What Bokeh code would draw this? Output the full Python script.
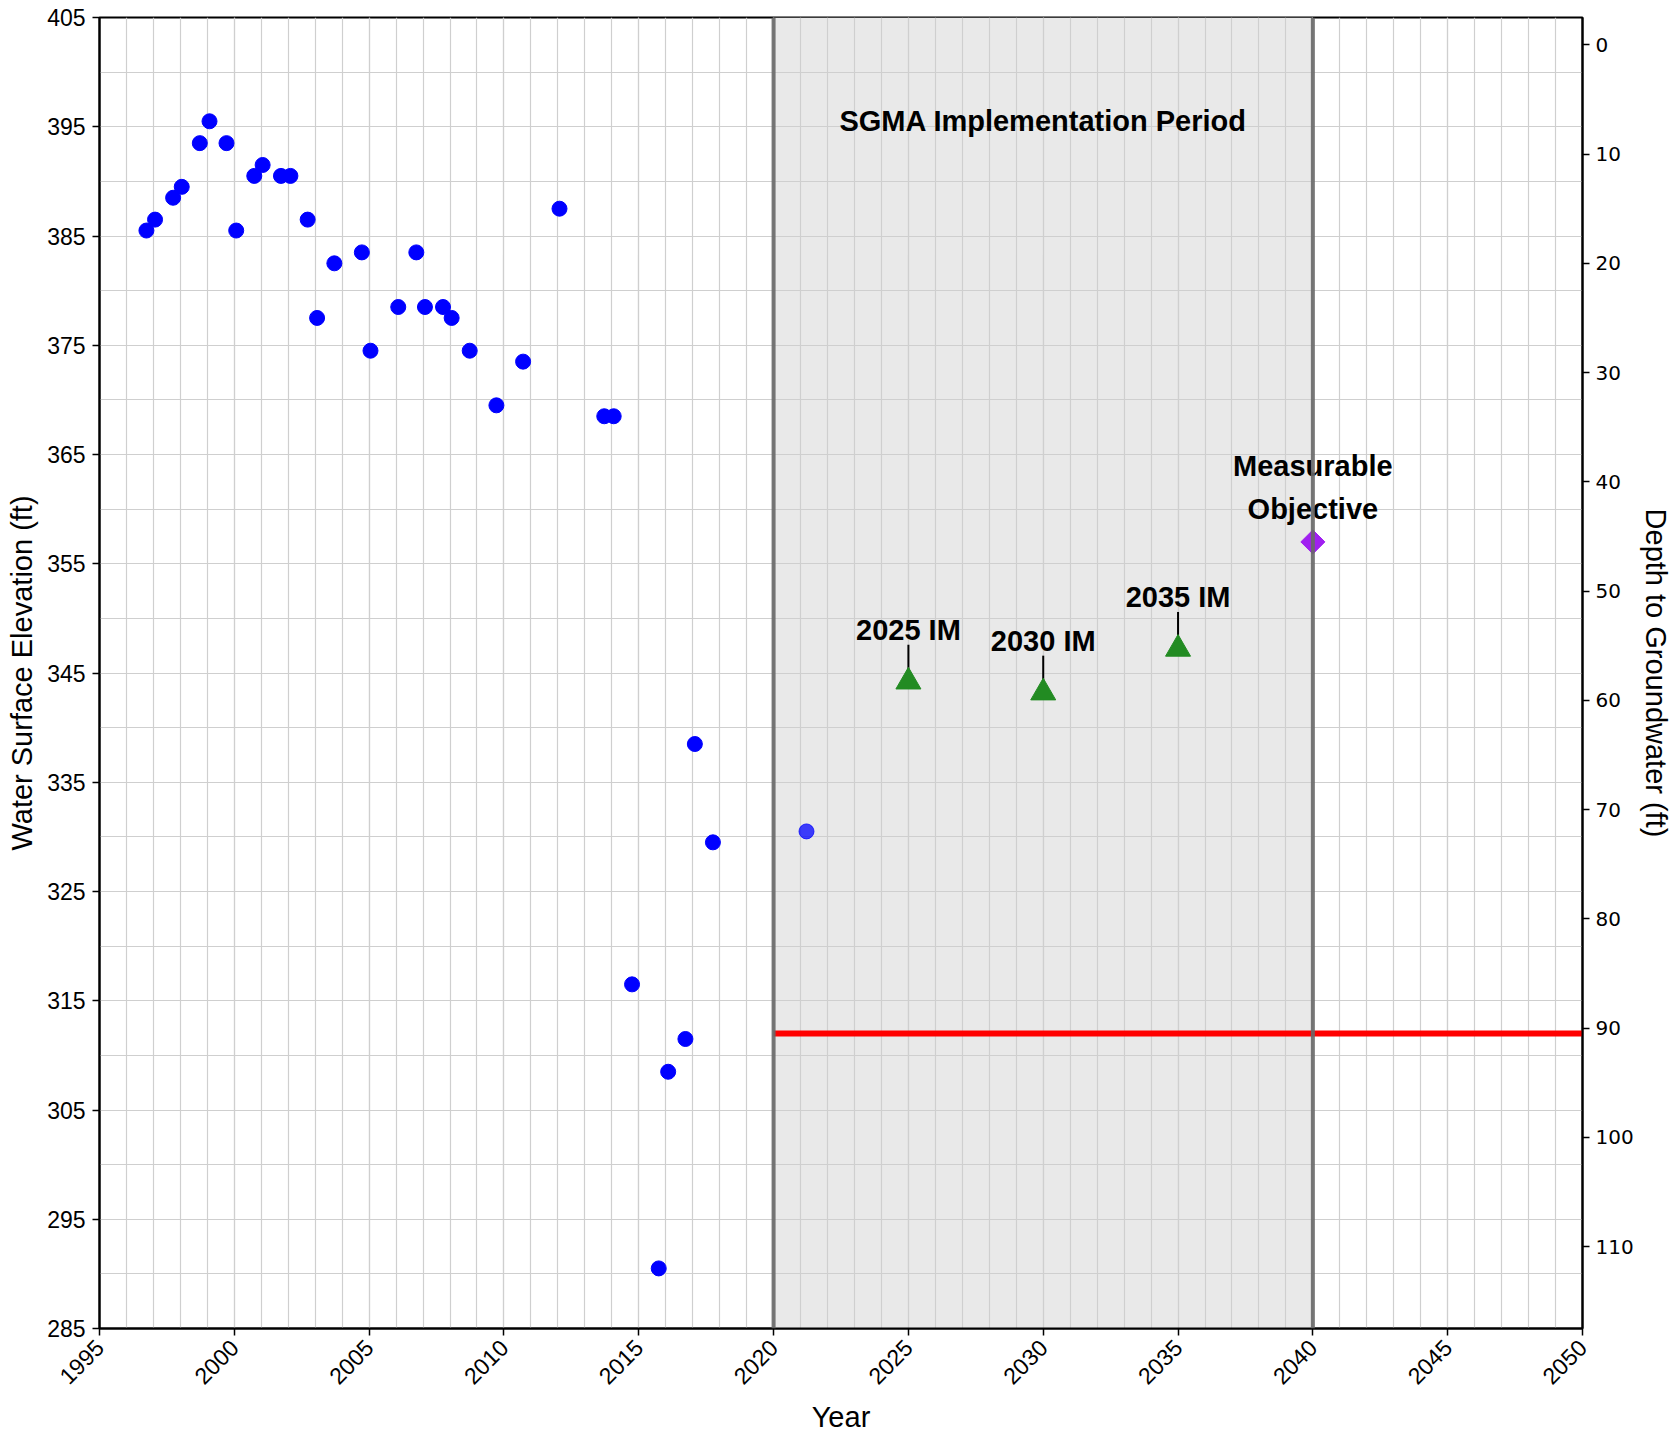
import math
from bokeh.plotting import figure
from bokeh.models import Range1d, LinearAxis, BoxAnnotation, Span, FixedTicker
from bokeh.core.properties import value
from bokeh.embed import file_html
from bokeh.resources import INLINE

# ---------------- data ----------------
obs_years = [1996.74, 1997.06, 1997.73, 1998.05, 1998.72, 1999.08, 1999.71, 2000.07,
             2000.74, 2001.05, 2001.73, 2002.08, 2002.72, 2003.07, 2003.71, 2004.73,
             2005.05, 2006.08, 2006.75, 2007.07, 2007.74, 2008.06, 2008.73, 2009.72,
             2010.71, 2012.06, 2013.72, 2014.07, 2014.75, 2015.74, 2016.09, 2016.73,
             2017.08, 2017.75]
obs_elev = [385.5, 386.5, 388.5, 389.5, 393.5, 395.5, 393.5, 385.5,
            390.5, 391.5, 390.5, 390.5, 386.5, 377.5, 382.5, 383.5,
            374.5, 378.5, 383.5, 378.5, 378.5, 377.5, 374.5, 369.5,
            373.5, 387.5, 368.5, 368.5, 316.5, 290.5, 308.5, 311.5,
            338.5, 329.5]

recent_years = [2021.22]
recent_elev = [330.5]

im_years = [2025, 2030, 2035]
im_elev = [344.2, 343.2, 347.2]
im_labels = ["2025 IM", "2030 IM", "2035 IM"]

mo_years = [2040]
mo_elev = [357.0]
mo_labels = ["Measurable\nObjective"]

mt_years = [2020, 2050]
mt_elev = [312.0, 312.0]

sgma_start, sgma_end = 2020, 2040
sgma_label = "SGMA Implementation Period"
sgma_label_elev = 395.5

ground_elev = 402.5

x_start, x_end = 1995, 2050
y_start, y_end = 285, 405
x_ticks = list(range(1995, 2051, 5))
x_minor = list(range(1995, 2051, 1))
y_ticks = list(range(285, 406, 10))
y_minor = list(range(285, 406, 5))
depth_ticks = list(range(0, 111, 10))

# ---------------- figure ----------------
FRAME_W, FRAME_H = 1483, 1311
p = figure(frame_width=FRAME_W, frame_height=FRAME_H,
           x_range=Range1d(x_start, x_end), y_range=Range1d(y_start, y_end),
           output_backend="svg", toolbar_location=None,
           min_border_left=99, min_border_right=90, min_border_top=17, min_border_bottom=102)
p.background_fill_color = "white"
p.border_fill_color = "white"
p.outline_line_color = "black"
p.outline_line_width = 2
p.outline_line_alpha = 1

xa = p.xaxis[0]
xa.ticker = FixedTicker(ticks=x_ticks, minor_ticks=x_minor)
xa.axis_label = "Year"
xa.major_label_orientation = math.pi / 4
ya = p.yaxis[0]
ya.ticker = FixedTicker(ticks=y_ticks, minor_ticks=y_minor)
ya.axis_label = "Water Surface Elevation (ft)"

ra = LinearAxis(y_range_name="depth", ticker=FixedTicker(ticks=depth_ticks),
                axis_label="Depth to Groundwater (ft)")
p.extra_y_ranges = {"depth": Range1d(start=ground_elev - y_start, end=ground_elev - y_end)}
p.add_layout(ra, "right")

for ax in (xa, ya, ra):
    ax.axis_line_color = "black"
    ax.axis_line_width = 2
    ax.major_tick_line_color = "black"
    ax.major_tick_line_width = 1.5
    ax.major_tick_out = 7
    ax.major_tick_in = 0
    ax.minor_tick_line_color = None
    ax.major_label_text_font = "Liberation Sans"
    ax.major_label_text_font_size = "23px"
    ax.major_label_text_color = "black"
    ax.major_label_standoff = 7
    ax.axis_label_text_font = "Liberation Sans"
    ax.axis_label_text_font_size = "29px"
    ax.axis_label_text_font_style = "normal"
    ax.axis_label_text_color = "black"
    ax.axis_label_standoff = 6
ra.major_label_text_font = "DejaVu Sans"
ra.major_label_text_font_size = "20px"
ra.major_label_standoff = 6
ra.axis_label_standoff = 3
xa.major_label_text_font_size = "23px"
xa.major_label_standoff = 8
xa.axis_label_standoff = 6

for g in (p.xgrid[0], p.ygrid[0]):
    g.grid_line_color = "#cfcfcf"
    g.grid_line_width = 1.2
    g.minor_grid_line_color = "#cfcfcf"
    g.minor_grid_line_width = 1.2

# SGMA period shading
p.add_layout(BoxAnnotation(left=sgma_start, right=sgma_end, fill_color="#e9e9e9",
                           fill_alpha=1, line_color=None, level="image"))
for loc in (sgma_start, sgma_end):
    p.add_layout(Span(location=loc, dimension="height", line_color="#686868",
                      line_width=4, line_alpha=0.9))

# minimum threshold
p.line(mt_years, mt_elev, line_color="red", line_width=6)

# observations
p.scatter(obs_years, obs_elev, size=15, fill_color="blue", line_color="blue")
p.scatter(recent_years, recent_elev, size=15, fill_color="blue", line_color="blue",
          fill_alpha=0.75, line_alpha=0.75)

# interim milestones
px_per_ft = FRAME_H / (y_end - y_start)
LEADER_PX = 37
p.segment(x0=im_years, y0=im_elev, x1=im_years,
          y1=[e + LEADER_PX / px_per_ft for e in im_elev],
          line_color="black", line_width=2)
p.scatter(im_years, im_elev, marker="triangle", size=25,
          fill_color="forestgreen", line_color="forestgreen")
p.text(x=im_years, y=im_elev, text=im_labels, y_offset=-52,
       text_align="center", text_baseline="middle",
       text_font=value("Liberation Sans"), text_font_style="bold",
       text_font_size="29px", text_color="black")

# measurable objective
p.scatter(mo_years, mo_elev, marker="square", angle=math.pi / 4, size=17,
          fill_color="#a020f0", line_color="#a020f0")
p.text(x=mo_years, y=mo_elev, text=mo_labels, y_offset=-54,
       text_align="center", text_baseline="middle", text_line_height=1.35,
       text_font=value("Liberation Sans"), text_font_style="bold",
       text_font_size="29px", text_color="black")

# SGMA label
p.text(x=[(sgma_start + sgma_end) / 2], y=[sgma_label_elev], text=[sgma_label],
       text_align="center", text_baseline="middle",
       text_font=value("Liberation Sans"), text_font_style="bold",
       text_font_size="29px", text_color="black")

open("out.html", "w").write(file_html(p, INLINE))
